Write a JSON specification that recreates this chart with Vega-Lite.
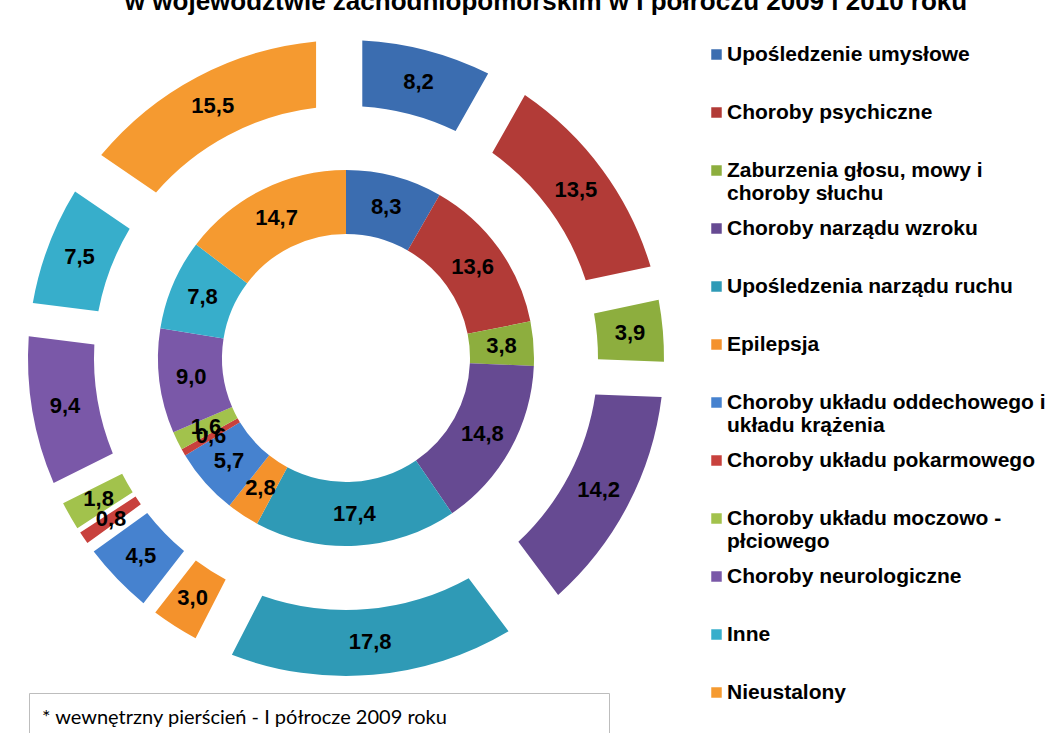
{
  "$schema": "https://vega.github.io/schema/vega-lite/v6.json",
  "padding": {"left": 28, "top": -11, "right": 0, "bottom": 0},
  "background": "white",
  "title": {
    "text": "w województwie zachodniopomorskim w I półroczu 2009 i 2010 roku",
    "font": "Arial, Liberation Sans, sans-serif",
    "fontSize": 26,
    "fontWeight": "bold",
    "color": "#000000",
    "anchor": "middle",
    "offset": 11
  },
  "config": {
    "locale": {"number": {"decimal": ",", "thousands": " ", "grouping": [3], "currency": ["", " zł"]}},
    "view": {"stroke": null},
    "concat": {"spacing": 2}
  },
  "datasets": {
    "dane": [
      {"rok": 2009, "nr": 1, "kategoria": "Upośledzenie umysłowe", "pct": 8.3},
      {"rok": 2009, "nr": 2, "kategoria": "Choroby psychiczne", "pct": 13.6},
      {"rok": 2009, "nr": 3, "kategoria": "Zaburzenia głosu, mowy i choroby słuchu", "pct": 3.8},
      {"rok": 2009, "nr": 4, "kategoria": "Choroby narządu wzroku", "pct": 14.8},
      {"rok": 2009, "nr": 5, "kategoria": "Upośledzenia narządu ruchu", "pct": 17.4},
      {"rok": 2009, "nr": 6, "kategoria": "Epilepsja", "pct": 2.8},
      {"rok": 2009, "nr": 7, "kategoria": "Choroby układu oddechowego i układu krążenia", "pct": 5.7},
      {"rok": 2009, "nr": 8, "kategoria": "Choroby układu pokarmowego", "pct": 0.6},
      {"rok": 2009, "nr": 9, "kategoria": "Choroby układu moczowo - płciowego", "pct": 1.6},
      {"rok": 2009, "nr": 10, "kategoria": "Choroby neurologiczne", "pct": 9.0},
      {"rok": 2009, "nr": 11, "kategoria": "Inne", "pct": 7.8},
      {"rok": 2009, "nr": 12, "kategoria": "Nieustalony", "pct": 14.7},
      {"rok": 2010, "nr": 1, "kategoria": "Upośledzenie umysłowe", "pct": 8.2},
      {"rok": 2010, "nr": 2, "kategoria": "Choroby psychiczne", "pct": 13.5},
      {"rok": 2010, "nr": 3, "kategoria": "Zaburzenia głosu, mowy i choroby słuchu", "pct": 3.9},
      {"rok": 2010, "nr": 4, "kategoria": "Choroby narządu wzroku", "pct": 14.2},
      {"rok": 2010, "nr": 5, "kategoria": "Upośledzenia narządu ruchu", "pct": 17.8},
      {"rok": 2010, "nr": 6, "kategoria": "Epilepsja", "pct": 3.0},
      {"rok": 2010, "nr": 7, "kategoria": "Choroby układu oddechowego i układu krążenia", "pct": 4.5},
      {"rok": 2010, "nr": 8, "kategoria": "Choroby układu pokarmowego", "pct": 0.8},
      {"rok": 2010, "nr": 9, "kategoria": "Choroby układu moczowo - płciowego", "pct": 1.8},
      {"rok": 2010, "nr": 10, "kategoria": "Choroby neurologiczne", "pct": 9.4},
      {"rok": 2010, "nr": 11, "kategoria": "Inne", "pct": 7.5},
      {"rok": 2010, "nr": 12, "kategoria": "Nieustalony", "pct": 15.5}
    ]
  },
  "vconcat": [
    {
      "width": 634,
      "height": 664,
      "data": {"name": "dane"},
      "encoding": {
        "theta": {"field": "pct", "type": "quantitative", "stack": true, "scale": {"domain": [0, 100.1]}},
        "order": {"field": "nr", "type": "quantitative"}
      },
      "layer": [
        {
          "transform": [{"filter": "datum.rok == 2009"}],
          "mark": {"type": "arc", "radius": 188, "radius2": 124},
          "encoding": {
            "color": {
              "field": "kategoria",
              "type": "nominal",
              "scale": {
                "domain": ["Upośledzenie umysłowe", "Choroby psychiczne", "Zaburzenia głosu, mowy i choroby słuchu", "Choroby narządu wzroku", "Upośledzenia narządu ruchu", "Epilepsja", "Choroby układu oddechowego i układu krążenia", "Choroby układu pokarmowego", "Choroby układu moczowo - płciowego", "Choroby neurologiczne", "Inne", "Nieustalony"],
                "range": ["#3B6DB0", "#B23B37", "#8DAE3E", "#664A92", "#2F9AB6", "#F4922C", "#4682CF", "#C8413D", "#A2C24C", "#7A58A8", "#37AECB", "#F59A30"]
              },
              "legend": {
                "title": null,
                "orient": "right",
                "offset": 24,
                "padding": 18,
                "symbolType": "square",
                "symbolSize": 110,
                "symbolStrokeWidth": 0,
                "labelFont": "Arial, Liberation Sans, sans-serif",
                "labelFontSize": 21,
                "labelFontWeight": "bold",
                "labelColor": "#000000",
                "labelLimit": 400,
                "labelOffset": 0,
                "rowPadding": 13,
                "gridAlign": "all",
                "labelExpr": "datum.label == 'Zaburzenia głosu, mowy i choroby słuchu' ? ['Zaburzenia głosu, mowy i', 'choroby słuchu'] : datum.label == 'Choroby układu oddechowego i układu krążenia' ? ['Choroby układu oddechowego i', 'układu krążenia'] : datum.label == 'Choroby układu moczowo - płciowego' ? ['Choroby układu moczowo -', 'płciowego'] : datum.label"
              }
            }
          }
        },
        {
          "transform": [{"filter": "datum.rok == 2009"}],
          "mark": {"type": "text", "radius": 156, "font": "Arial, Liberation Sans, sans-serif", "fontSize": 22, "fontWeight": "bold", "fill": "#000000"},
          "encoding": {
            "detail": {"field": "kategoria", "type": "nominal"},
            "text": {"field": "pct", "type": "quantitative", "format": ".1f"}
          }
        },
        {
          "transform": [{"filter": "datum.rok == 2010"}],
          "mark": {"type": "arc", "radius": 318, "radius2": 252, "padAngle": {"expr": "2*asin(64*sin((datum.pct_end-datum.pct_start)/100.1*PI)/405.7)"}},
          "encoding": {
            "color": {"field": "kategoria", "type": "nominal"}
          }
        },
        {
          "transform": [{"filter": "datum.rok == 2010"}],
          "mark": {"type": "text", "radius": 285, "font": "Arial, Liberation Sans, sans-serif", "fontSize": 22, "fontWeight": "bold", "fill": "#000000"},
          "encoding": {
            "detail": {"field": "kategoria", "type": "nominal"},
            "text": {"field": "pct", "type": "quantitative", "format": ".1f"}
          }
        }
      ]
    },
    {
      "width": 580,
      "height": 42,
      "view": {"stroke": "#BDBDBD", "strokeWidth": 1},
      "data": {"values": [{"przypis": "* wewnętrzny pierścień - I półrocze 2009 roku"}]},
      "mark": {"type": "text", "align": "left", "baseline": "middle", "font": "Lato", "fontSize": 20, "dx": 13, "dy": 4, "fill": "#000000"},
      "encoding": {
        "x": {"datum": 0, "type": "quantitative", "scale": {"domain": [0, 1]}, "axis": null},
        "text": {"field": "przypis", "type": "nominal"}
      }
    }
  ]
}
